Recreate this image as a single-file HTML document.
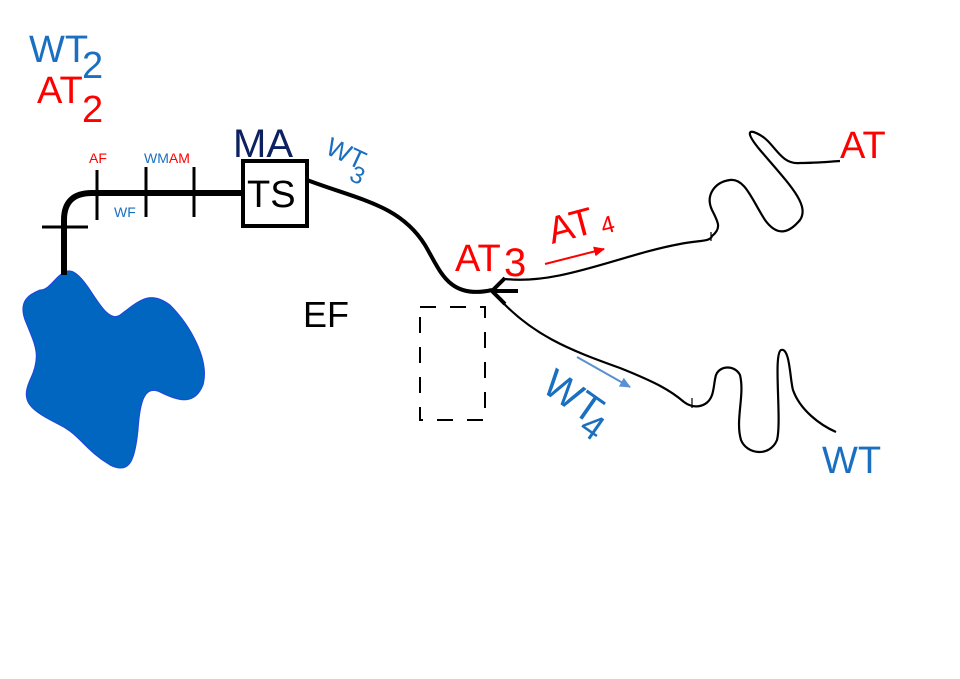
<!DOCTYPE html>
<html><head><meta charset="utf-8"><style>
html,body{margin:0;padding:0;background:#fff;width:960px;height:679px;overflow:hidden}
svg{display:block}
text{font-family:"Liberation Sans",sans-serif}
</style></head><body>
<svg width="960" height="679" viewBox="0 0 960 679" xmlns="http://www.w3.org/2000/svg">
<defs>
<marker id="ar" markerWidth="11" markerHeight="10" refX="10" refY="5" orient="auto" markerUnits="userSpaceOnUse"><path d="M0,0 L11,5 L0,10 z" fill="#ff0000"/></marker>
<marker id="ab" markerWidth="11" markerHeight="10" refX="10" refY="5" orient="auto" markerUnits="userSpaceOnUse"><path d="M0,0 L11,5 L0,10 z" fill="#5a8fd0"/></marker>
</defs>
<path d="M65,272 C55,276 50,290 40,290 C30,294 18,300 25,320 C35,345 42,355 30,380 C20,402 30,410 60,425 C80,435 85,450 110,465 C130,475 135,460 138,430 C140,400 145,385 160,392 C180,402 195,405 203,385 C210,360 190,325 170,305 C150,290 140,300 120,315 C110,322 100,305 90,290 C80,275 72,268 65,272 Z" fill="#0066bf" stroke="#2244dd" stroke-width="1"/>
<path d="M64,275 L64,220 Q64,193 92,193 L243,193" fill="none" stroke="#000" stroke-width="6"/>
<line x1="42" y1="227" x2="88" y2="227" stroke="#000" stroke-width="3"/>
<line x1="97" y1="170" x2="97" y2="220" stroke="#000" stroke-width="3"/>
<line x1="146" y1="167" x2="146" y2="217" stroke="#000" stroke-width="3"/>
<line x1="194" y1="167" x2="194" y2="217" stroke="#000" stroke-width="3"/>
<rect x="243" y="161" width="64" height="65" fill="#fff" stroke="#000" stroke-width="4"/>
<text x="247" y="207" font-size="38" fill="#000">TS</text>
<path d="M307,180 C360,200 400,205 425,245 C440,270 448,300 492,290" fill="none" stroke="#000" stroke-width="4"/>
<path d="M505,278 L492,291 L505,304 M492,291 L518,291" fill="none" stroke="#000" stroke-width="4"/>
<path d="M505,279 C560,285 620,255 680,244 C700,240 710,242 712,236 C722,228 718,222 712,210 C705,195 715,182 730,180 C745,178 752,200 765,220 C778,238 790,232 800,220 C810,205 790,185 760,150 C745,132 748,128 760,135 C775,143 780,165 800,163 C815,163 825,162 840,161" fill="none" stroke="#000" stroke-width="2.2"/>
<line x1="711" y1="232" x2="711" y2="241" stroke="#000" stroke-width="1.2"/>
<path d="M494,293 C530,335 570,350 620,368 C655,382 670,390 684,402 C692,408 700,407 705,404 C715,398 713,385 716,375 C720,365 735,365 740,375 C745,395 735,420 741,440 C747,455 770,457 777,440 C782,420 773,355 781,350 C790,347 790,380 793,390 C800,410 820,425 836,432" fill="none" stroke="#000" stroke-width="2.2"/>
<line x1="692" y1="398" x2="692" y2="408" stroke="#000" stroke-width="1.2"/>
<rect x="420" y="307" width="65" height="113" fill="none" stroke="#000" stroke-width="2" stroke-dasharray="16,14"/>
<line x1="545" y1="264" x2="604" y2="249" stroke="#ff0000" stroke-width="2" marker-end="url(#ar)"/>
<line x1="577" y1="357" x2="630" y2="387" stroke="#5a8fd0" stroke-width="2" marker-end="url(#ab)"/>
<text x="29" y="62" font-size="38" fill="#1a6fc0">WT</text>
<text x="82" y="78" font-size="38" fill="#1a6fc0">2</text>
<text x="37" y="103" font-size="38" fill="#ff0000">AT</text>
<text x="82" y="122" font-size="38" fill="#ff0000">2</text>
<text x="89" y="163" font-size="14" fill="#ff0000">AF</text>
<text x="144" y="163" font-size="14" fill="#1a6fc0">WM<tspan fill="#ff0000">AM</tspan></text>
<text x="114" y="217" font-size="14" fill="#1a6fc0">WF</text>
<text x="233" y="157" font-size="40" fill="#0d2060">MA</text>
<g transform="translate(324,153) rotate(25)"><text x="0" y="0" font-size="26" fill="#1a6fc0">WT</text><text x="33" y="14" font-size="24" fill="#1a6fc0">3</text></g>
<text x="303" y="327" font-size="36" fill="#000">EF</text>
<text x="455" y="271" font-size="38" fill="#ff0000">AT</text><text x="504" y="276" font-size="40" fill="#ff0000">3</text>
<g transform="translate(552,244) rotate(-15)"><text x="0" y="0" font-size="38" fill="#ff0000">AT</text><text x="52" y="4" font-size="24" fill="#ff0000">4</text></g>
<g transform="translate(540,390) rotate(35)"><text x="0" y="0" font-size="40" fill="#1a6fc0">WT</text><text x="54" y="12" font-size="36" fill="#1a6fc0">4</text></g>
<text x="840" y="158" font-size="38" fill="#ff0000">AT</text>
<text x="822" y="473" font-size="38" fill="#1a6fc0">WT</text>
</svg>
</body></html>
